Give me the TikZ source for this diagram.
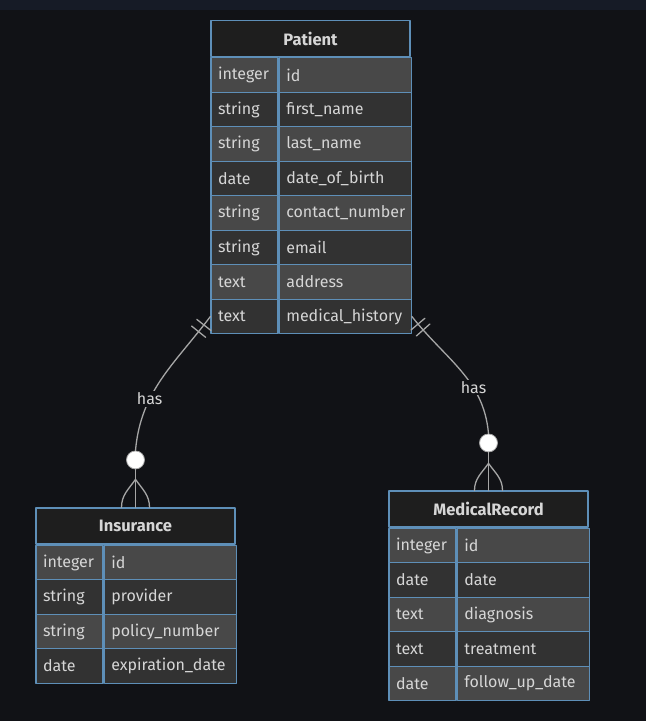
\documentclass[tikz,border=0pt]{standalone}
\usepackage{fontspec}
\setmainfont{Fira Sans}
\usetikzlibrary{positioning}
\definecolor{bg}{HTML}{111216}
\definecolor{bgtop}{HTML}{161B26}
\definecolor{hdr}{HTML}{1E1E1E}
\definecolor{rowa}{HTML}{484848}
\definecolor{rowb}{HTML}{323232}
\definecolor{erline}{HTML}{5E8FB8}
\definecolor{txt}{HTML}{D6D6D6}
\definecolor{rel}{HTML}{A6A6A6}
\begin{document}
\begin{tikzpicture}[x=1pt, y=1pt, font=\fontsize{16}{19}\selectfont, line join=round, line cap=round,
	cell/.style={draw=erline, line width=1.3pt, fill=rowc, text=txt, minimum height=34.5pt, inner xsep=7pt, inner ysep=0pt, align=left},
	tcell/.style={cell, text width=53pt},
	ncell/.style={cell, text width=118pt},
	hdrbox/.style={draw=erline, line width=1.3pt, fill=hdr, text=txt, minimum width=199pt, minimum height=36pt, inner sep=0pt, font=\fontsize{16.5}{19}\selectfont\bfseries},
	rel/.style={draw=rel, line width=1.3pt},
	circ/.style={circle, fill=white, draw=rel, line width=.8pt, minimum size=18pt, inner sep=0pt},
	bar/.style={sloped, rectangle, draw=rel, line width=1.3pt, minimum height=18pt, minimum width=0pt, inner sep=0pt},
	lbl/.style={fill=bg, text=txt, inner sep=1.5pt}]
	% fond
	\fill[bg] (0,0) rectangle (646,-721);
	\fill[bgtop] (0,0) rectangle (646,-10);
	\useasboundingbox (0,0) rectangle (646,-721);
	% tables
	\node[hdrbox] (pat) at (310.5,-38.5) {Patient};
	\foreach \t/\n [count=\i] in {integer/id, string/first\_name, string/last\_name, date/date\_of\_birth, string/contact\_number, string/email, text/address, text/medical\_history}{
		\ifodd\i \colorlet{rowc}{rowa}\else \colorlet{rowc}{rowb}\fi
		\node[tcell, anchor=north west] (pat-t\i) at ([yshift={(1-\i)*34.5}]pat.south west) {\t};
		\node[ncell, right=0pt of pat-t\i] (pat-n\i) {\n};
	}
	\node[hdrbox] (ins) at (135.5,-526) {Insurance};
	\foreach \t/\n [count=\i] in {integer/id, string/provider, string/policy\_number, date/expiration\_date}{
		\ifodd\i \colorlet{rowc}{rowa}\else \colorlet{rowc}{rowb}\fi
		\node[tcell, anchor=north west] (ins-t\i) at ([yshift={(1-\i)*34.5}]ins.south west) {\t};
		\node[ncell, right=0pt of ins-t\i] (ins-n\i) {\n};
	}
	\node[hdrbox] (mr) at (488.5,-509) {MedicalRecord};
	\foreach \t/\n [count=\i] in {integer/id, date/date, text/diagnosis, text/treatment, date/follow\_up\_date}{
		\ifodd\i \colorlet{rowc}{rowa}\else \colorlet{rowc}{rowb}\fi
		\node[tcell, anchor=north west] (mr-t\i) at ([yshift={(1-\i)*34.5}]mr.south west) {\t};
		\node[ncell, right=0pt of mr-t\i] (mr-n\i) {\n};
	}
	% relations
	\node[circ, above=38pt of ins] (c-ins) {};
	\node[circ, above=38pt of mr] (c-mr) {};
	\draw[rel] (pat-t8.west) to[out=233, in=85]
		node[bar, pos=.06] {} node[bar, pos=.11] {}
		node[lbl, pos=.66] {has} (c-ins.north);
	\draw[rel] (pat-n8.east) to[out=-52, in=95]
		node[bar, pos=.06] {} node[bar, pos=.11] {}
		node[lbl, pos=.66] {has} (c-mr.north);
	% pattes
	\coordinate (f-ins) at ([yshift=-10pt]c-ins.south);
	\coordinate (f-mr) at ([yshift=-11pt]c-mr.south);
	\draw[rel] (c-ins.south)--(ins.north);
	\draw[rel] (f-ins) to[out=-125, in=90] ([xshift=-14pt]ins.north)
		(f-ins) to[out=-55, in=90] ([xshift=14pt]ins.north);
	\draw[rel] (c-mr.south)--(mr.north);
	\draw[rel] (f-mr) to[out=-125, in=90] ([xshift=-14pt]mr.north)
		(f-mr) to[out=-55, in=90] ([xshift=14pt]mr.north);
\end{tikzpicture}
\end{document}
